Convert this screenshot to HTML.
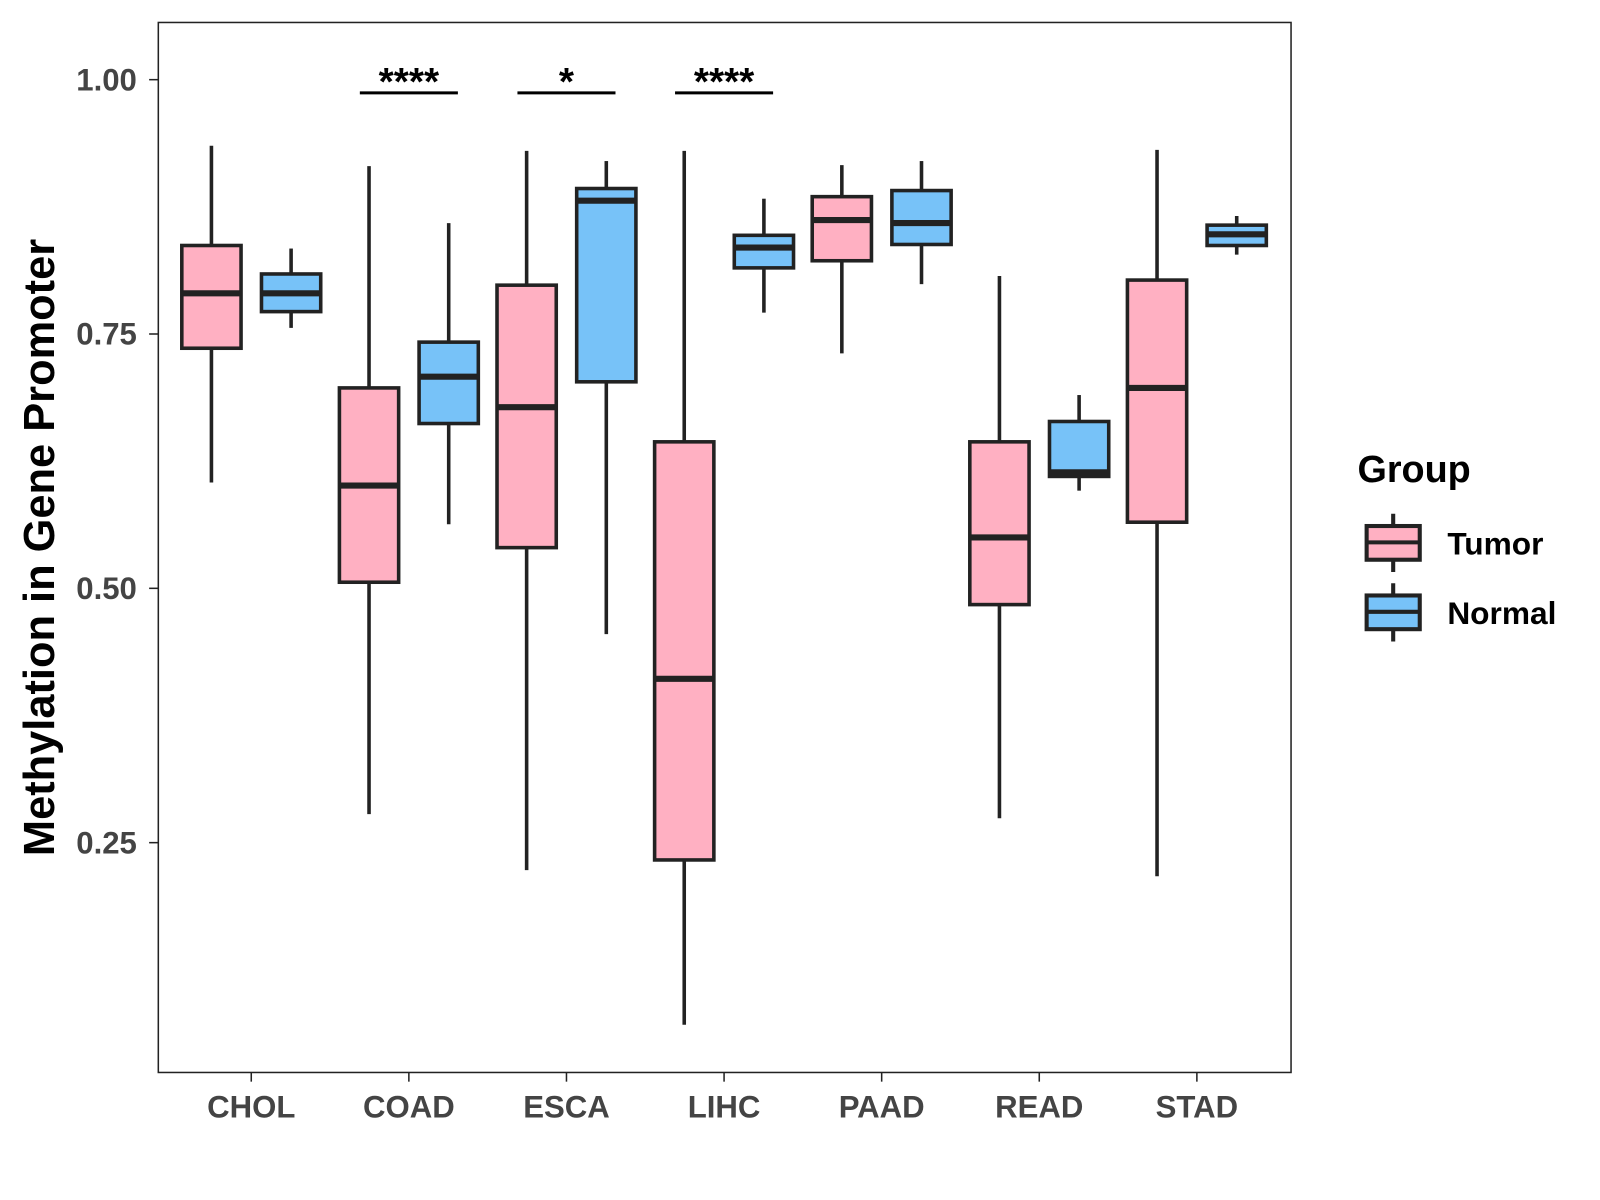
<!DOCTYPE html>
<html><head><meta charset="utf-8"><style>
html,body{margin:0;padding:0;background:#fff;}
svg{display:block;font-family:"Liberation Sans",Arial,sans-serif;}
</style></head><body>
<svg id="chart" width="1600" height="1200" viewBox="0 0 1600 1200" xmlns="http://www.w3.org/2000/svg">
<rect x="0" y="0" width="1600" height="1200" fill="#fff"/>
<g transform="scale(1.0214)">
<rect x="155" y="22" width="1109" height="1028" fill="none" stroke="#222" stroke-width="1.5"/>
<g id="yaxis"></g>
<g id="xaxis"></g>
<g id="boxes"></g>
<g id="sig"></g>
<text transform="translate(53,536) rotate(-90)" text-anchor="middle" font-size="42.5" font-weight="bold" fill="#000">Methylation in Gene Promoter</text>
<g>
<text x="1329" y="472" font-size="37" font-weight="bold" fill="#000">Group</text>
<g>
<line x1="1364" y1="503" x2="1364" y2="560" stroke="#222" stroke-width="4"/>
<rect x="1338" y="515" width="52" height="33" fill="#FFB0C2" stroke="#222" stroke-width="4"/>
<line x1="1338" y1="531" x2="1390" y2="531" stroke="#222" stroke-width="4"/>
<text x="1417" y="543" font-size="31" font-weight="bold" fill="#000">Tumor</text>
</g>
<g>
<line x1="1364" y1="571" x2="1364" y2="628" stroke="#222" stroke-width="4"/>
<rect x="1338" y="583" width="52" height="33" fill="#77C2F8" stroke="#222" stroke-width="4"/>
<line x1="1338" y1="599" x2="1390" y2="599" stroke="#222" stroke-width="4"/>
<text x="1417" y="611" font-size="31" font-weight="bold" fill="#000">Normal</text>
</g>
</g>
</g>
</svg>
<script>
const categories=["CHOL","COAD","ESCA","LIHC","PAAD","READ","STAD"];
const tumorLow=[0.604,0.278,0.223,0.071,0.731,0.274,0.217];
const tumorQ1=[0.736,0.506,0.540,0.233,0.822,0.484,0.565];
const tumorMed=[0.790,0.601,0.678,0.411,0.862,0.550,0.697];
const tumorQ3=[0.837,0.697,0.798,0.644,0.885,0.644,0.803];
const tumorHigh=[0.935,0.915,0.930,0.930,0.916,0.807,0.931];
const normalLow=[0.756,0.563,0.455,0.771,0.799,0.596,0.828];
const normalQ1=[0.772,0.662,0.703,0.815,0.838,0.610,0.837];
const normalMed=[0.790,0.708,0.881,0.835,0.859,0.614,0.848];
const normalQ3=[0.809,0.742,0.893,0.847,0.891,0.664,0.857];
const normalHigh=[0.834,0.859,0.920,0.883,0.920,0.690,0.866];
const yTicks=[0.25,0.50,0.75,1.00];
const yTickLabels=["0.25","0.50","0.75","1.00"];
const sigCats=["COAD","ESCA","LIHC"];
const sigLabels=["****","*","****"];
const sigLevel=[0.987,0.987,0.987];

const NS="http://www.w3.org/2000/svg";
const yScale=v=>78+(1-v)*996;
const xScale=i=>246+i*154.3;
function mk(tag,attrs,parent){const e=document.createElementNS(NS,tag);for(const k in attrs)e.setAttribute(k,attrs[k]);parent.appendChild(e);return e;}
const ya=document.getElementById('yaxis'),xa=document.getElementById('xaxis'),bx=document.getElementById('boxes'),sg=document.getElementById('sig');
yTicks.forEach((t,i)=>{
  const y=yScale(t);
  const l=mk('line',{x1:146,x2:155,y1:y,y2:y,stroke:'#222','stroke-width':1.5},ya);
  
  
  const tx=mk('text',{x:134,y:y+10.5,'text-anchor':'end','font-size':30.5,'font-weight':'bold',fill:'#444'},ya);
  tx.textContent=yTickLabels[i];
  
  
});
categories.forEach((c,i)=>{
  const x=xScale(i);
  const l=mk('line',{x1:x,x2:x,y1:1050,y2:1059,stroke:'#222','stroke-width':1.5},xa);
  
  
  const tx=mk('text',{x:x,y:1094,'text-anchor':'middle','font-size':30.5,'font-weight':'bold',fill:'#444'},xa);
  tx.textContent=c;
  
  
});
function box(cx,lo,q1,md,q3,hi,fill,name){
  const g=mk('g',{},bx);
  
  
  const hw=29;
  mk('line',{x1:cx,x2:cx,y1:yScale(hi),y2:yScale(q3),stroke:'#222','stroke-width':3.5},g);
  mk('line',{x1:cx,x2:cx,y1:yScale(q1),y2:yScale(lo),stroke:'#222','stroke-width':3.5},g);
  mk('rect',{x:cx-hw,y:yScale(q3),width:hw*2,height:yScale(q1)-yScale(q3),fill:fill,stroke:'#222','stroke-width':3.5},g);
  mk('line',{x1:cx-hw,x2:cx+hw,y1:yScale(md),y2:yScale(md),stroke:'#222','stroke-width':6},g);
}
categories.forEach((c,i)=>{
  const x=xScale(i);
  box(x-39,tumorLow[i],tumorQ1[i],tumorMed[i],tumorQ3[i],tumorHigh[i],'#FFB0C2','box-tumor-'+c.toLowerCase());
  box(x+39,normalLow[i],normalQ1[i],normalMed[i],normalQ3[i],normalHigh[i],'#77C2F8','box-normal-'+c.toLowerCase());
});
sigCats.forEach((c,i)=>{
  const x=xScale(categories.indexOf(c));const y=yScale(sigLevel[i]);
  const l=mk('line',{x1:x-48,x2:x+48,y1:y,y2:y,stroke:'#000','stroke-width':3},sg);
  
  
  const t=mk('text',{x:x,y:y+2,'text-anchor':'middle','font-size':38,'font-weight':'bold',fill:'#000'},sg);
  t.textContent=sigLabels[i];
  
  
});
</script>
</body></html>
